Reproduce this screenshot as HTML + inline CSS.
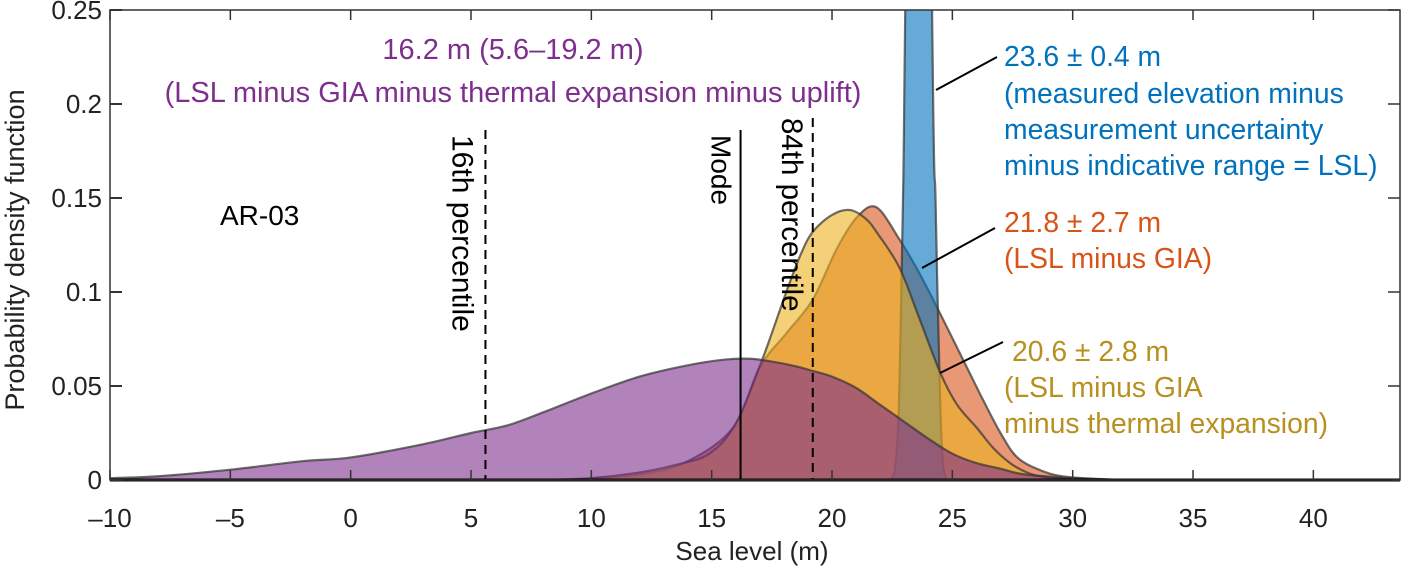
<!DOCTYPE html>
<html><head><meta charset="utf-8"><style>
html,body{margin:0;padding:0;background:#fff;}
svg{display:block;font-family:"Liberation Sans",Arial,sans-serif;}
</style></head><body>
<svg id="chart" width="1404" height="571" viewBox="0 0 1404 571" xmlns="http://www.w3.org/2000/svg">
<defs><clipPath id="plotclip"><rect x="110" y="10" width="1290" height="470"/></clipPath></defs>
<g id="series" clip-path="url(#plotclip)"></g>
<g id="axes"></g>
<g id="annot">
<text x="513" y="59" font-size="29" fill="#7e2f8e" text-anchor="middle">16.2 m (5.6–19.2 m)</text>
<text x="513" y="102" font-size="29" fill="#7e2f8e" text-anchor="middle">(LSL minus GIA minus thermal expansion minus uplift)</text>
<g fill="#0072bd" font-size="28.3">
<text x="1004" y="66">23.6 ± 0.4 m</text>
<text x="1004" y="103">(measured elevation minus</text>
<text x="1004" y="139">measurement uncertainty</text>
<text x="1004" y="175">minus indicative range = LSL)</text></g>
<g fill="#d95319" font-size="28.3">
<text x="1004" y="232">21.8 ± 2.7 m</text>
<text x="1004" y="268">(LSL minus GIA)</text></g>
<g fill="#b8901f" font-size="28.3">
<text x="1012" y="361">20.6 ± 2.8 m</text>
<text x="1004" y="397">(LSL minus GIA</text>
<text x="1004" y="433">minus thermal expansion)</text></g>
<line x1="936" y1="90" x2="997" y2="57" stroke="#000" stroke-width="2"/>
<line x1="922" y1="268" x2="995" y2="228" stroke="#000" stroke-width="2"/>
<line x1="940" y1="373" x2="1003" y2="342" stroke="#000" stroke-width="2"/>
<text x="220" y="225" font-size="28" fill="#000">AR-03</text>
</g>
</svg>
<script>
const xTicks=[-10,-5,0,5,10,15,20,25,30,35,40];
const yTicks=[0,0.05,0.1,0.15,0.2,0.25];
const yTickLabels=["0","0.05","0.1","0.15","0.2","0.25"];
const purpleX=[-10,-8,-5,-2,0,3,5,6.5,8,10,12,14,15.5,16.6,17.5,18.5,19.2,20,21,22,23,24,25,26,27,28,30,32];
const purpleY=[0.001,0.002,0.0055,0.01,0.012,0.019,0.025,0.029,0.036,0.046,0.055,0.061,0.064,0.0645,0.063,0.0605,0.058,0.055,0.049,0.040,0.031,0.022,0.014,0.009,0.006,0.003,0.001,0];
const yellowX=[8,10,12,13.5,14.9,16,17.1,18.1,18.7,19.2,20,20.75,21.4,21.9,22.8,23.6,24.5,25.2,26,26.7,27.4,28.1,28.8,30,32];
const yellowY=[0,0.001,0.004,0.008,0.014,0.03,0.064,0.1,0.12,0.132,0.141,0.1436,0.139,0.131,0.113,0.087,0.057,0.04,0.028,0.017,0.009,0.004,0.0016,0.0005,0];
const orangeX=[9,12,14,15.9,17,18.1,19.2,20.2,21.05,21.85,22.8,23.5,24.2,25.6,26.3,27,27.7,28.7,29.8,32];
const orangeY=[0,0.003,0.01,0.028,0.06,0.078,0.096,0.123,0.140,0.145,0.128,0.113,0.096,0.060,0.042,0.025,0.012,0.005,0.0016,0];
const blueX=[22.4,22.6,22.75,22.85,22.95,23.05,23.6,24.15,24.3,24.4,24.5,24.6,24.75];
const blueY=[0,0.005,0.03,0.08,0.15,0.26,1.0,0.26,0.15,0.09,0.04,0.01,0];
const markerX=[5.6,16.2,19.2];
const NS="http://www.w3.org/2000/svg";
const X0=-10,X1=43.6,PL=110,PR=1400,PT=10,PB=480;
function sx(v){return PL+(v-X0)/(X1-X0)*(PR-PL);}
function sy(v){return PB-v/0.25*(PB-PT);}
function mk(tag,attrs,parent){const e=document.createElementNS(NS,tag);for(const k in attrs)e.setAttribute(k,attrs[k]);parent.appendChild(e);return e;}
function smooth(xs,ys){const p=xs.map((x,i)=>[sx(x),sy(ys[i])]);let d="M"+p[0][0]+","+p[0][1];
for(let i=0;i<p.length-1;i++){const p0=p[Math.max(0,i-1)],p1=p[i],p2=p[i+1],p3=p[Math.min(p.length-1,i+2)];
const c1=[p1[0]+(p2[0]-p0[0])/6,p1[1]+(p2[1]-p0[1])/6],c2=[p2[0]-(p3[0]-p1[0])/6,p2[1]-(p3[1]-p1[1])/6];
d+=" C"+c1[0]+","+Math.min(PB,c1[1])+" "+c2[0]+","+Math.min(PB,c2[1])+" "+p2[0]+","+p2[1];}return d;}
const sg=document.getElementById('series');
function area(xs,ys,fill,name){const d=smooth(xs,ys)+" L"+sx(xs[xs.length-1])+","+PB+" L"+sx(xs[0])+","+PB+" Z";
const el=mk('path',{d:d,fill:fill,'fill-opacity':0.6,stroke:'#333','stroke-opacity':0.7,'stroke-width':2.2},sg);

}
area(orangeX,orangeY,'#d95319','orange-gia-pdf');
area(blueX,blueY,'#0072bd','blue-lsl-pdf');
area(yellowX,yellowY,'#edb120','yellow-thermal-pdf');
area(purpleX,purpleY,'#7e2f8e','purple-uplift-pdf');
const ag=document.getElementById('axes');
const tops=[130,130,118];const dash=["9,6","none","9,6"];const names=["p16-line","mode-line","p84-line"];
markerX.forEach((v,i)=>{const l=mk('line',{x1:sx(v),x2:sx(v),y1:tops[i],y2:PB,stroke:'#000','stroke-width':2,'stroke-dasharray':dash[i]},ag);

});
const vlabels=[["16th percentile",sx(markerX[0])-33,135,30],["Mode",sx(markerX[1])-29,135,28],["84th percentile",sx(markerX[2])-31,118,29.5]];
vlabels.forEach((a,i)=>{const t=mk('text',{x:0,y:0,'font-size':a[3],fill:'#000',transform:`translate(${a[1]},${a[2]}) rotate(90)`},ag);t.textContent=a[0];

});
mk('line',{x1:PL,x2:PR,y1:PB,y2:PB,stroke:'#000','stroke-width':3},ag);
mk('rect',{x:PL,y:PT,width:PR-PL,height:PB-PT,fill:'none',stroke:'#333','stroke-width':1.5},ag);
xTicks.forEach(v=>{const x=sx(v);mk('line',{x1:x,x2:x,y1:PB,y2:PB-10,stroke:'#333','stroke-width':1.5},ag);mk('line',{x1:x,x2:x,y1:PT,y2:PT+10,stroke:'#333','stroke-width':1.5},ag);
const t=mk('text',{x:x,y:PB+47,'font-size':26,'text-anchor':'middle',fill:'#222'},ag);t.textContent=(v<0?"–"+(-v):String(v));

});
yTicks.forEach((v,i)=>{const y=sy(v);mk('line',{x1:PL,x2:PL+12,y1:y,y2:y,stroke:'#333','stroke-width':2},ag);mk('line',{x1:PR,x2:PR-12,y1:y,y2:y,stroke:'#333','stroke-width':1.5},ag);
const t=mk('text',{x:PL-8,y:y+9,'font-size':26,'text-anchor':'end',fill:'#222'},ag);t.textContent=yTickLabels[i];

});
const xt=mk('text',{x:752,y:560,'font-size':26,'text-anchor':'middle',fill:'#222'},ag);xt.textContent="Sea level (m)";


const yt=mk('text',{x:0,y:0,'font-size':27,'text-anchor':'middle',fill:'#222',transform:'translate(24,250) rotate(-90)'},ag);yt.textContent="Probability density function";


</script>
</body></html>
